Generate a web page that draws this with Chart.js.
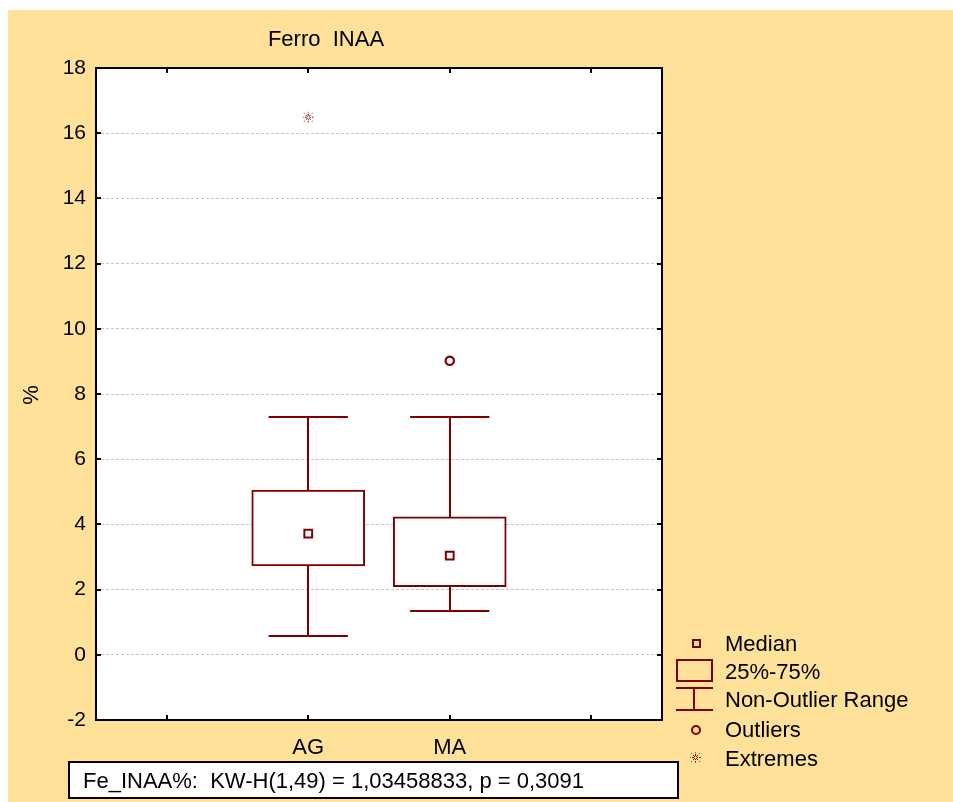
<!DOCTYPE html>
<html>
<head>
<meta charset="utf-8">
<title>Ferro INAA</title>
<script src="https://cdn.jsdelivr.net/npm/chart.js@4/dist/chart.umd.min.js"></script>
<style>
  html, body { margin: 0; padding: 0; background: #ffffff; }
  #wrap { position: absolute; left: 8px; top: 10px; width: 945px; height: 792px; background: #FFE199; }
  canvas { display: block; }
</style>
</head>
<body>
<div id="wrap"><canvas id="chart" width="945" height="792" style="width:945px;height:792px"></canvas></div>
<script>
// Groups and their positions on the x axis
const categories = ['AG', 'MA'];
const categoryPositions = [2, 3];
const xTickPositions = [1, 2, 3, 4];

// Box plot statistics (Fe, %)
const whiskerLow  = [0.58, 1.34];
const quartile1   = [2.73, 2.09];
const medians     = [3.72, 3.04];
const quartile3   = [5.05, 4.23];
const whiskerHigh = [7.30, 7.29];
const outlierValues = [[], [9.02]];
const extremeValues = [[16.49], []];

// Y axis ticks
const yTicks = [-2, 0, 2, 4, 6, 8, 10, 12, 14, 16, 18];

const chartTitle = 'Ferro  INAA';
const yAxisTitle = '%';
const statsText = 'Fe_INAA%:  KW-H(1,49) = 1,03458833, p = 0,3091';
const legendLabels = ['Median', '25%-75%', 'Non-Outlier Range', 'Outliers', 'Extremes'];

const MAROON = '#800000';
const FAMILY = '"Liberation Sans", Arial, Helvetica, sans-serif';
const FONT = '22px ' + FAMILY;

// Sparse dotted star used for extreme values
function makeExtremeGlyph() {
  const c = document.createElement('canvas');
  c.width = 13; c.height = 13;
  const g = c.getContext('2d');
  for (let k = 0; k < 8; k++) {
    const a = k * Math.PI / 4;
    [2, 3.5, 5].forEach((r, j) => {
      g.fillStyle = j === 2 ? 'rgba(140,10,10,0.7)' : 'rgba(128,0,0,0.95)';
      g.fillRect(Math.round(6 + r * Math.cos(a)), Math.round(6 + r * Math.sin(a)), 1, 1);
    });
  }
  return c;
}
const extremeGlyph = makeExtremeGlyph();

const boxData = categoryPositions.map((x, i) => ({ x, y: [quartile1[i], quartile3[i]] }));
const medianData = categoryPositions.map((x, i) => ({ x, y: medians[i] }));
const outlierData = [];
outlierValues.forEach((vals, i) => vals.forEach(v => outlierData.push({ x: categoryPositions[i], y: v })));
const extremeData = [];
extremeValues.forEach((vals, i) => vals.forEach(v => extremeData.push({ x: categoryPositions[i], y: v })));

const capHalfWidth = 0.28;

const boxPlotDecor = {
  id: 'boxPlotDecor',
  beforeDraw(chart) {
    const { ctx, chartArea: a } = chart;
    ctx.save();
    ctx.fillStyle = '#ffffff';
    ctx.fillRect(a.left, a.top, a.right - a.left, a.bottom - a.top);
    ctx.restore();
  },
  beforeDatasetsDraw(chart) {
    const { ctx } = chart;
    const xs = chart.scales.x, ys = chart.scales.y;
    ctx.save();
    ctx.strokeStyle = MAROON;
    ctx.lineWidth = 2;
    categoryPositions.forEach((p, i) => {
      const cx = Math.round(xs.getPixelForValue(p));
      const x0 = xs.getPixelForValue(p - capHalfWidth);
      const x1 = xs.getPixelForValue(p + capHalfWidth);
      const yLo = Math.round(ys.getPixelForValue(whiskerLow[i]));
      const yHi = Math.round(ys.getPixelForValue(whiskerHigh[i]));
      const yQ1 = ys.getPixelForValue(quartile1[i]);
      const yQ3 = ys.getPixelForValue(quartile3[i]);
      ctx.beginPath();
      ctx.moveTo(cx, yHi); ctx.lineTo(cx, yQ3);
      ctx.moveTo(cx, yQ1); ctx.lineTo(cx, yLo);
      ctx.moveTo(x0, yHi); ctx.lineTo(x1, yHi);
      ctx.moveTo(x0, yLo); ctx.lineTo(x1, yLo);
      ctx.stroke();
    });
    ctx.restore();
  },
  afterDraw(chart) {
    const { ctx, chartArea: a } = chart;
    const xs = chart.scales.x, ys = chart.scales.y;
    ctx.save();

    // frame and inward tick marks
    ctx.strokeStyle = '#000';
    ctx.lineWidth = 2;
    ctx.strokeRect(a.left, a.top, a.right - a.left, a.bottom - a.top);
    ctx.beginPath();
    yTicks.forEach(v => {
      const py = Math.round(ys.getPixelForValue(v));
      ctx.moveTo(a.left, py); ctx.lineTo(a.left + 5, py);
      ctx.moveTo(a.right, py); ctx.lineTo(a.right - 5, py);
    });
    xTickPositions.forEach(v => {
      const px = Math.round(xs.getPixelForValue(v));
      ctx.moveTo(px, a.bottom); ctx.lineTo(px, a.bottom - 5);
      ctx.moveTo(px, a.top); ctx.lineTo(px, a.top + 5);
    });
    ctx.stroke();

    // chart title
    ctx.fillStyle = '#000';
    ctx.font = FONT;
    ctx.textAlign = 'center';
    ctx.textBaseline = 'alphabetic';
    ctx.fillText(chartTitle, 318, 36);

    // y axis title
    ctx.save();
    ctx.translate(24, 385);
    ctx.rotate(-Math.PI / 2);
    ctx.textBaseline = 'middle';
    ctx.fillText(yAxisTitle, 0, 0);
    ctx.restore();

    // legend
    ctx.textAlign = 'left';
    const baselines = [641, 669, 697, 727, 756];
    legendLabels.forEach((t, i) => ctx.fillText(t, 717, baselines[i]));
    ctx.strokeStyle = MAROON;
    ctx.lineWidth = 2;
    ctx.strokeRect(685, 630, 7, 7);
    ctx.strokeRect(669, 650, 35, 21);
    ctx.beginPath();
    ctx.moveTo(668, 678); ctx.lineTo(705, 678);
    ctx.moveTo(686, 678); ctx.lineTo(686, 700);
    ctx.moveTo(668, 700); ctx.lineTo(705, 700);
    ctx.stroke();
    ctx.beginPath();
    ctx.arc(688, 720, 4, 0, Math.PI * 2);
    ctx.stroke();
    ctx.drawImage(extremeGlyph, 681, 741);

    // test statistic box
    ctx.fillStyle = '#ffffff';
    ctx.fillRect(61, 752, 609, 36);
    ctx.strokeStyle = '#000';
    ctx.strokeRect(61, 752, 609, 36);
    ctx.fillStyle = '#000';
    ctx.fillText(statsText, 75, 778);

    ctx.restore();
  }
};

new Chart(document.getElementById('chart'), {
  type: 'bar',
  data: {
    datasets: [
      {
        type: 'bar',
        label: '25%-75%',
        data: boxData,
        backgroundColor: '#ffffff',
        borderColor: MAROON,
        borderWidth: 2,
        borderSkipped: false,
        barThickness: 113,
        order: 3
      },
      {
        type: 'scatter',
        label: 'Median',
        data: medianData,
        pointStyle: 'rect',
        pointRadius: 5.5,
        borderWidth: 2,
        borderColor: MAROON,
        backgroundColor: '#ffffff',
        order: 1
      },
      {
        type: 'scatter',
        label: 'Outliers',
        data: outlierData,
        pointStyle: 'circle',
        pointRadius: 4.2,
        borderWidth: 2.2,
        borderColor: MAROON,
        backgroundColor: '#ffffff',
        order: 1
      },
      {
        type: 'scatter',
        label: 'Extremes',
        data: extremeData,
        pointStyle: extremeGlyph,
        pointRadius: 6,
        order: 1
      }
    ]
  },
  options: {
    responsive: false,
    maintainAspectRatio: false,
    animation: false,
    events: [],
    layout: { padding: { top: 58, right: 291, left: 0, bottom: 0 } },
    plugins: { legend: { display: false }, title: { display: false }, tooltip: { enabled: false } },
    scales: {
      x: {
        type: 'linear',
        min: 0.5,
        max: 4.5,
        offset: false,
        grid: { display: false, offset: false },
        border: { display: false },
        afterBuildTicks: s => { s.ticks = xTickPositions.map(v => ({ value: v })); },
        afterFit: s => { s.height = 82; },
        ticks: {
          color: '#000',
          font: { family: FAMILY, size: 22 },
          padding: 7,
          maxRotation: 0,
          autoSkip: false,
          callback: v => { const i = categoryPositions.indexOf(v); return i >= 0 ? categories[i] : ''; }
        }
      },
      y: {
        type: 'linear',
        min: -2,
        max: 18,
        beginAtZero: false,
        afterBuildTicks: s => { s.ticks = yTicks.map(v => ({ value: v })); },
        afterFit: s => { s.width = 88; },
        grid: { color: '#c4c4c4', lineWidth: 1, drawTicks: false },
        border: { display: false, dash: [3, 2] },
        ticks: {
          color: '#000',
          font: { family: FAMILY, size: 21 },
          padding: 10
        }
      }
    }
  },
  plugins: [boxPlotDecor]
});
</script>
</body>
</html>
